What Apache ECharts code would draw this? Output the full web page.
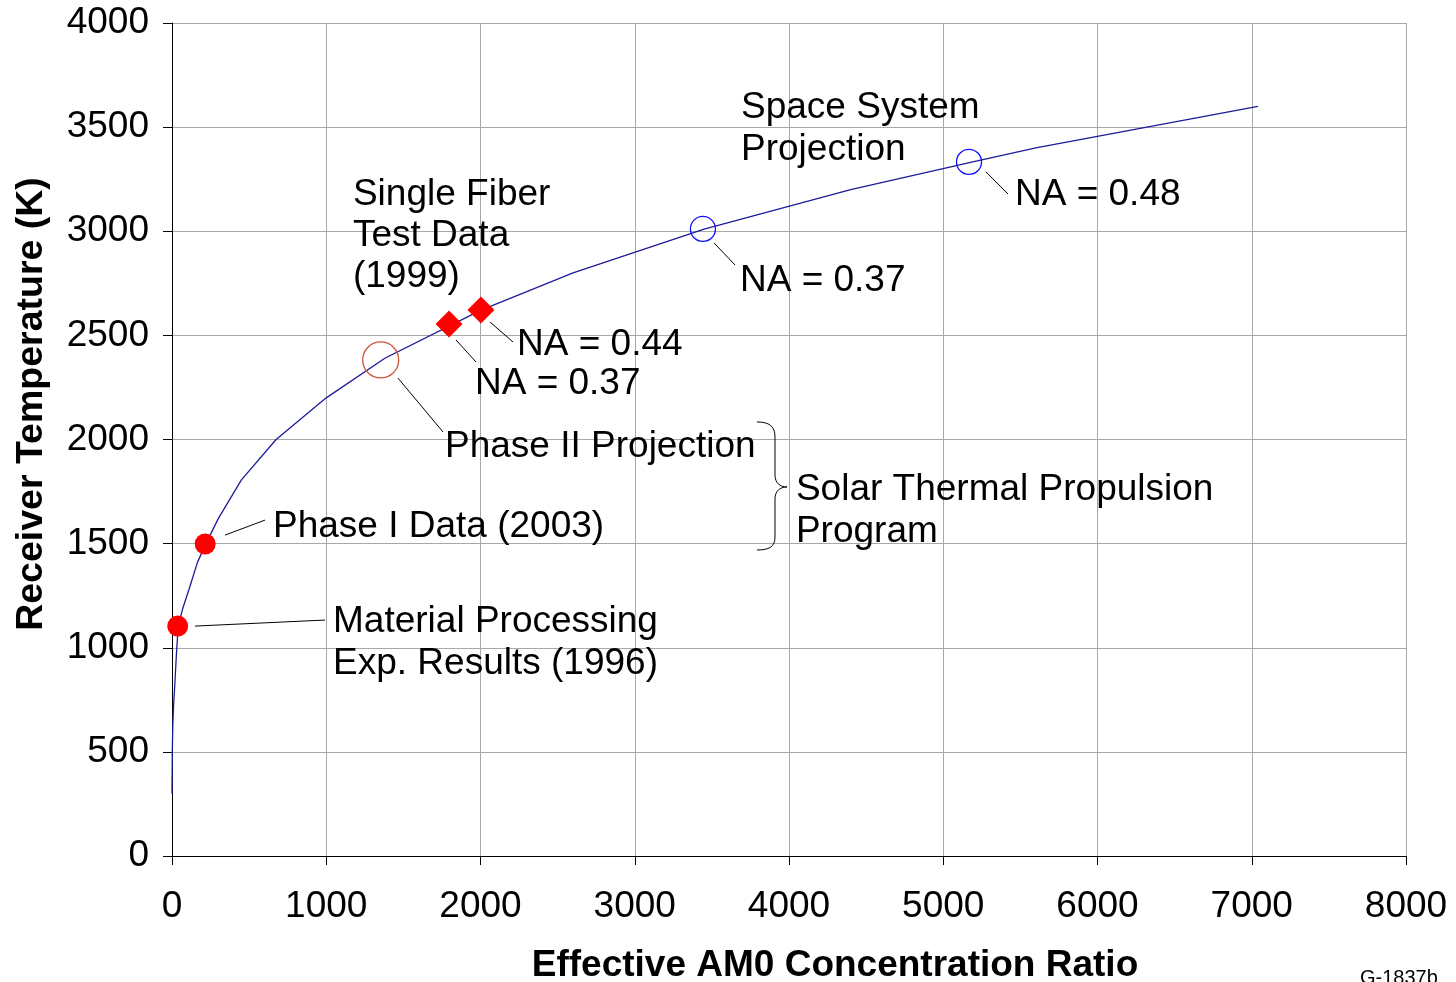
<!DOCTYPE html>
<html><head><meta charset="utf-8">
<script src="https://cdn.jsdelivr.net/npm/echarts@6/dist/echarts.min.js"></script>
<style>html,body{margin:0;padding:0;background:#fff}#c{width:1456px;height:982px}</style>
</head><body><div id="c"></div>
<script>
// ---- data ----
const curveX = [0, 2, 5, 10, 18, 28, 40, 70, 110, 165, 220, 300, 450, 675, 1000, 1380, 2000, 2600, 3450, 4400, 5170, 5600, 7040];
const curveY = [300, 500, 620, 720, 820, 960, 1100, 1190, 1280, 1410, 1500, 1620, 1806, 2000, 2200, 2390, 2620, 2800, 3010, 3200, 3330, 3400, 3600];
const redDotsX = [37, 215];
const redDotsY = [1104, 1498];
const fiberX = [1796, 2003];
const fiberY = [2555, 2622];
const phase2X = [1353];
const phase2Y = [2382];
const spaceX = [3442, 5167];
const spaceY = [3011, 3333];
const xTicks = [0, 1000, 2000, 3000, 4000, 5000, 6000, 7000, 8000];
const yTicks = [0, 500, 1000, 1500, 2000, 2500, 3000, 3500, 4000];
const labels = [
  {t: 'Material Processing\nExp. Results (1996)', x: 1044, y: 1022},
  {t: 'Phase I Data (2003)', x: 655, y: 1579},
  {t: 'Phase II Projection', x: 1770, y: 1964},
  {t: 'NA = 0.37', x: 1964, y: 2266},
  {t: 'NA = 0.44', x: 2237, y: 2453},
  {t: 'Single Fiber\nTest Data\n(1999)', x: 1173, y: 2977},
  {t: 'Space System\nProjection', x: 3689, y: 3493},
  {t: 'NA = 0.37', x: 3682, y: 2761},
  {t: 'NA = 0.48', x: 5465, y: 3174},
  {t: 'Solar Thermal Propulsion\nProgram', x: 4045, y: 1656}
];
const leaders = [
  [[149, 1104], [992, 1133]],
  [[344, 1541], [603, 1613]],
  [[1465, 2295], [1757, 2036]],
  [[1841, 2478], [1971, 2372]],
  [[2062, 2564], [2211, 2468]],
  [[3514, 2944], [3650, 2838]],
  [[5277, 3285], [5420, 3179]]
];
const braceTip = [3987, 1772];

const zip = (a, b) => a.map((v, i) => [v, b[i]]);
const FONT = '"Liberation Sans", Arial, sans-serif';

const chart = echarts.init(document.getElementById('c'));
const axisCommon = {
  type: 'value',
  axisLine: {show: true, lineStyle: {color: '#000', width: 1}},
  axisTick: {show: true, length: 9, lineStyle: {color: '#000'}},
  splitLine: {show: true, lineStyle: {color: '#a8a8a8', width: 1}},
  axisLabel: {color: '#000', fontSize: 37, fontFamily: FONT, formatter: v => String(v)}
};
chart.setOption({
  animation: false,
  grid: {left: 172, right: 50, top: 23, bottom: 126, containLabel: false},
  xAxis: Object.assign({}, axisCommon, {min: xTicks[0], max: xTicks[xTicks.length - 1], interval: 1000,
    axisLabel: Object.assign({}, axisCommon.axisLabel, {margin: 32})}),
  yAxis: Object.assign({}, axisCommon, {min: yTicks[0], max: yTicks[yTicks.length - 1], interval: 500,
    axisLabel: Object.assign({}, axisCommon.axisLabel, {margin: 23})}),
  series: [
    {type: 'line', data: zip(curveX, curveY), showSymbol: false, smooth: false,
      lineStyle: {color: '#1c1c9a', width: 1.3}, z: 2,
      markLine: {silent: true, symbol: 'none', label: {show: false},
        lineStyle: {color: '#000', width: 1, type: 'solid'},
        data: leaders.map(l => [{coord: l[0]}, {coord: l[1]}])}},
    {type: 'scatter', data: zip(redDotsX, redDotsY), symbol: 'circle', symbolSize: 21,
      itemStyle: {color: '#ff0000', opacity: 1}, z: 4},
    {type: 'scatter', data: zip(fiberX, fiberY), symbol: 'diamond', symbolSize: 27,
      itemStyle: {color: '#ff0000', opacity: 1}, z: 4},
    {type: 'scatter', data: zip(phase2X, phase2Y), symbol: 'circle', symbolSize: 36,
      itemStyle: {color: 'rgba(0,0,0,0)', borderColor: '#d0553c', borderWidth: 1.3, opacity: 1}, z: 4},
    {type: 'scatter', data: zip(spaceX, spaceY), symbol: 'circle', symbolSize: 25,
      itemStyle: {color: 'rgba(0,0,0,0)', borderColor: '#1010ff', borderWidth: 1.3, opacity: 1}, z: 4}
  ]
});

const toPx = p => chart.convertToPixel({gridIndex: 0}, p);
const g = [];
labels.forEach(l => {
  const p = toPx([l.x, l.y]);
  const lines = l.t.split('\n').length;
  g.push({type: 'text', x: p[0], y: p[1], z: 10,
    style: {text: l.t, fill: '#000', fontSize: 37, fontFamily: FONT,
      align: 'left', verticalAlign: 'middle', lineHeight: lines === 3 ? 41 : 42}});
});
const [tx, ty] = toPx(braceTip);
const bs = {stroke: '#000', lineWidth: 1, fill: null};
g.push({type: 'bezierCurve', z: 10, style: bs,
  shape: {x1: tx - 30, y1: ty - 65, cpx1: tx - 18, cpy1: ty - 65, cpx2: tx - 12, cpy2: ty - 61, x2: tx - 12, y2: ty - 50}});
g.push({type: 'line', z: 10, style: bs, shape: {x1: tx - 12, y1: ty - 50, x2: tx - 12, y2: ty - 12}});
g.push({type: 'bezierCurve', z: 10, style: bs,
  shape: {x1: tx - 12, y1: ty - 12, cpx1: tx - 12, cpy1: ty - 4, cpx2: tx - 7, cpy2: ty, x2: tx, y2: ty}});
g.push({type: 'bezierCurve', z: 10, style: bs,
  shape: {x1: tx, y1: ty, cpx1: tx - 7, cpy1: ty, cpx2: tx - 12, cpy2: ty + 4, x2: tx - 12, y2: ty + 12}});
g.push({type: 'line', z: 10, style: bs, shape: {x1: tx - 12, y1: ty + 12, x2: tx - 12, y2: ty + 50}});
g.push({type: 'bezierCurve', z: 10, style: bs,
  shape: {x1: tx - 12, y1: ty + 50, cpx1: tx - 12, cpy1: ty + 60, cpx2: tx - 18, cpy2: ty + 63, x2: tx - 30, y2: ty + 63}});
g.push({type: 'text', x: 835, y: 966, z: 10,
  style: {text: 'Effective AM0 Concentration Ratio', fill: '#000', fontSize: 37, fontWeight: 'bold',
    fontFamily: FONT, align: 'center', verticalAlign: 'middle'}});
g.push({type: 'text', x: 32, y: 404, rotation: Math.PI / 2, z: 10,
  style: {text: 'Receiver Temperature (K)', fill: '#000', fontSize: 37.5, fontWeight: 'bold',
    fontFamily: FONT, align: 'center', verticalAlign: 'middle'}});
g.push({type: 'text', x: 1360, y: 968, z: 10,
  style: {text: 'G-1837b', fill: '#000', fontSize: 20, fontFamily: FONT, align: 'left', verticalAlign: 'top'}});
chart.setOption({graphic: g});
</script></body></html>
